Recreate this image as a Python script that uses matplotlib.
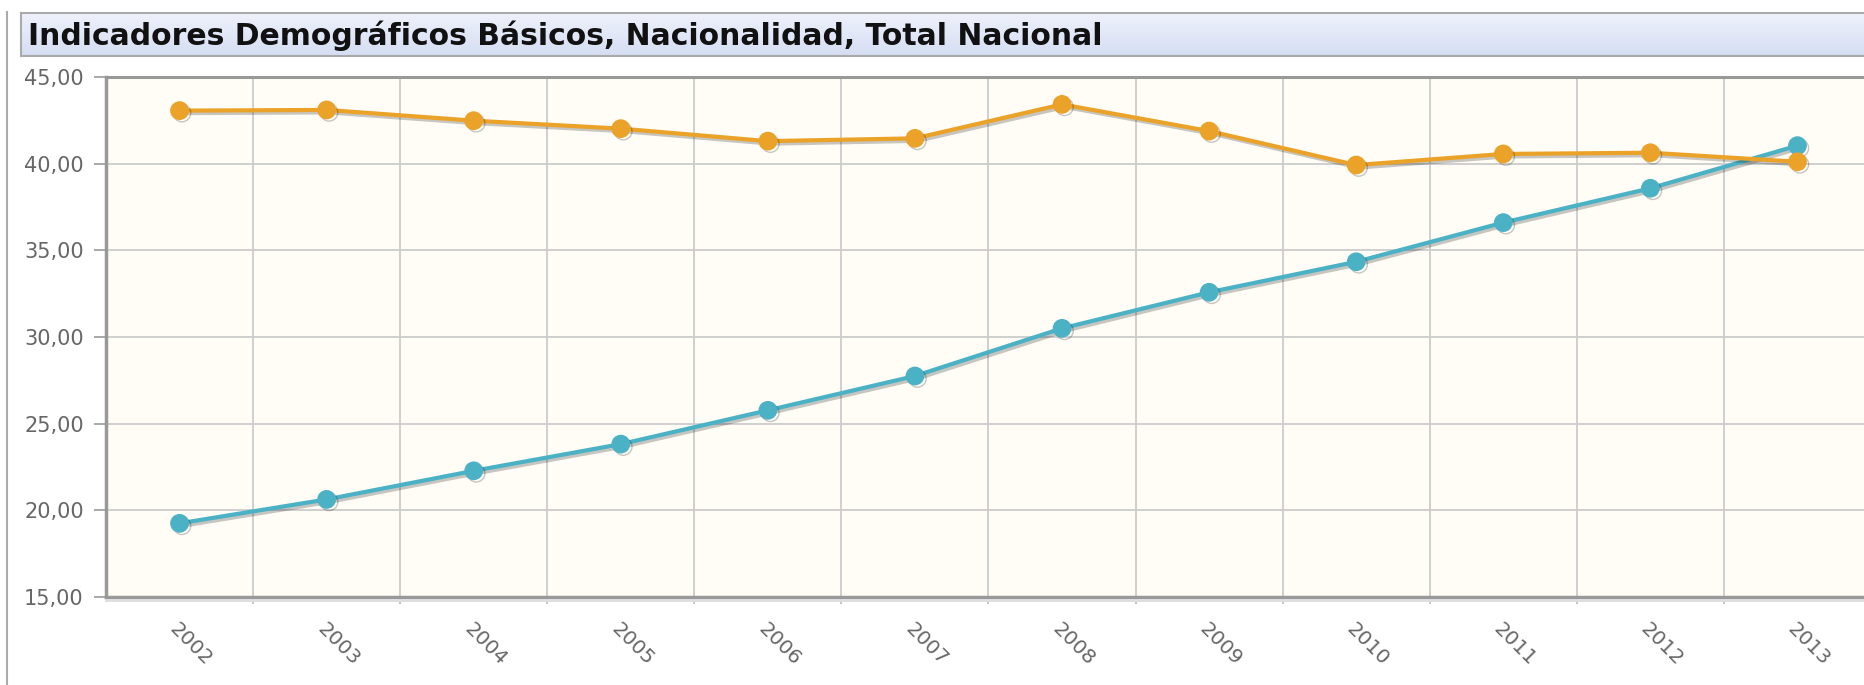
import numpy as np
import matplotlib
matplotlib.use("Agg")
import matplotlib.pyplot as plt
import matplotlib.patheffects as pe
from matplotlib.ticker import FuncFormatter, FixedLocator
from matplotlib.lines import Line2D

# data
years = ["2002", "2003", "2004", "2005", "2006", "2007",
         "2008", "2009", "2010", "2011", "2012", "2013"]
serieAzul = [19.25, 20.63, 22.28, 23.82, 25.77, 27.75,
             30.50, 32.58, 34.34, 36.60, 38.58, 41.04]
serieNaranja = [43.06, 43.10, 42.48, 42.02, 41.30, 41.46,
                43.42, 41.88, 39.92, 40.56, 40.63, 40.11]
yTicks = [15, 20, 25, 30, 35, 40, 45]
titulo = "Indicadores Demográficos Básicos, Nacionalidad, Total Nacional"

W, H = 1864, 685
fig = plt.figure(figsize=(W / 100, H / 100), dpi=100)
fig.patch.set_facecolor("white")

### title bar with gradient
barLeft, barTop, barBottom = 21, 13, 56
barAx = fig.add_axes([barLeft / W, 1 - barBottom / H, (W - barLeft) / W + 0.01, (barBottom - barTop) / H])
top = np.array([0.937, 0.949, 0.984])
bottom = np.array([0.835, 0.867, 0.953])
grad = np.linspace(0, 1, 64)[:, None, None]
img = top + (bottom - top) * grad
barAx.imshow(np.repeat(img, 4, axis=1), aspect="auto", extent=(0, 1, 0, 1))
barAx.set_xticks([])
barAx.set_yticks([])
for s in barAx.spines.values():
    s.set_color("#aaaaaa")
    s.set_linewidth(1.5)
barAx.text(7 / (W - barLeft), 0.47, titulo, transform=barAx.transAxes,
           ha="left", va="center", fontsize=21.5, fontweight="bold",
           family="DejaVu Sans", color="#111111")

# left border line of the page
fig.add_artist(Line2D([7 / W, 7 / W], [0, 1 - 12 / H], transform=fig.transFigure,
                      color="#aaaaaa", linewidth=1.5))

### main plot
axLeft, axRight, axTop, axBottom = 106, 1871, 77, 597
ax = fig.add_axes([axLeft / W, 1 - axBottom / H, (axRight - axLeft) / W, (axBottom - axTop) / H])
ax.set_facecolor("#fffdf6")

x = np.arange(len(years))
sombra = [pe.SimpleLineShadow(offset=(1.8, -1.8), alpha=0.22, shadow_color="black"), pe.Normal()]
ax.plot(x, serieAzul, color="#4bb2c5", linewidth=3.0, marker="o", markersize=12.5,
        path_effects=sombra, zorder=3, clip_on=False)
ax.plot(x, serieNaranja, color="#eaa228", linewidth=3.0, marker="o", markersize=12.5,
        path_effects=sombra, zorder=4, clip_on=False)

ax.set_xlim(-0.5, len(years) - 0.5)
ax.set_ylim(15, 45)

ax.set_yticks(yTicks)
ax.yaxis.set_major_formatter(FuncFormatter(lambda v, p: ("%.2f" % v).replace(".", ",")))
ax.tick_params(axis="y", length=9, width=1.2, color="#999999", pad=7,
               labelsize=15, labelcolor="#666666")

ax.set_xticks(x)
ax.set_xticklabels(years)
ax.xaxis.set_minor_locator(FixedLocator(np.arange(0.5, len(years), 1.0)))
ax.tick_params(axis="x", which="major", length=0, pad=16, labelsize=14.5, labelcolor="#666666")
ax.tick_params(axis="x", which="minor", length=5, width=1.2, color="#bbbbbb")
for lbl in ax.get_xticklabels():
    lbl.set_rotation(-45)
    lbl.set_rotation_mode("anchor")
    lbl.set_ha("left")
    lbl.set_va("top")

ax.grid(True, axis="y", which="major", color="#cccccc", linewidth=1.3)
ax.grid(True, axis="x", which="minor", color="#cccccc", linewidth=1.3)
ax.grid(False, axis="x", which="major")
ax.set_axisbelow(True)

ax.spines["left"].set_color("#999999")
ax.spines["left"].set_linewidth(2.5)
ax.spines["bottom"].set_color("#999999")
ax.spines["bottom"].set_linewidth(2.5)
ax.spines["top"].set_color("#999999")
ax.spines["top"].set_linewidth(2.2)
ax.spines["right"].set_visible(False)

# faint shadow under the bottom axis
fig.add_artist(Line2D([axLeft / W, 1], [1 - (axBottom + 3) / H] * 2, transform=fig.transFigure,
                      color="#dddddd", linewidth=2))

fig.savefig("out.png", dpi=100)
